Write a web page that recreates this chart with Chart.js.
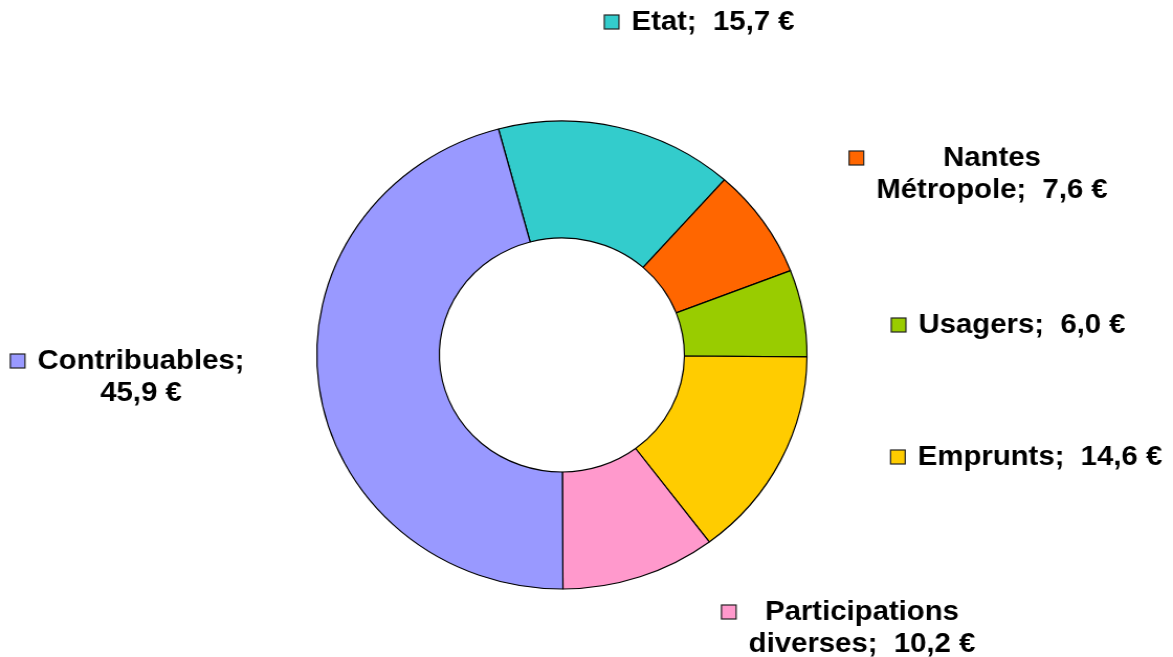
<!DOCTYPE html>
<html>
<head>
<meta charset="utf-8">
<script src="https://cdn.jsdelivr.net/npm/chart.js@4/dist/chart.umd.min.js"></script>
<style>
  html, body { margin: 0; padding: 0; background: #fff; overflow: hidden; }
  #wrap { position: absolute; left: 0; top: 0; width: 1120px; height: 657px;
          transform: scaleX(1.04732); transform-origin: 0 0; }
</style>
</head>
<body>
<div id="wrap"><canvas id="c"></canvas></div>
<script>
// ---- data ----
const categories = ['Etat', 'Nantes Métropole', 'Usagers', 'Emprunts', 'Participations diverses', 'Contribuables'];
const values = [15.7, 7.6, 6.0, 14.6, 10.2, 45.9];
const colors = ['#33CCCC', '#FF6600', '#99CC00', '#FFCC00', '#FF99CC', '#9999FF'];
// how each label is wrapped (display text)
const labelNames = ['Etat', 'Nantes\nMétropole', 'Usagers', 'Emprunts', 'Participations\ndiverses', 'Contribuables'];
const valueOnNewLine = [false, false, false, false, false, true];

// ---- label layout (screen positions of first line centre) ----
const SX = 1173 / 1120;
const labelPos = [
  { x: 713, y: 22 },
  { x: 992, y: 158 },
  { x: 1022, y: 325 },
  { x: 1040, y: 457 },
  { x: 862, y: 612 },
  { x: 141, y: 361 }
];

function fmt(v) { return v.toFixed(1).replace('.', ',') + ' €'; }

const labelPlugin = {
  id: 'outLabels',
  afterDraw(chart) {
    const ctx = chart.ctx;
    ctx.save();
    ctx.font = 'bold 28px "Liberation Sans", Arial, sans-serif';
    ctx.textAlign = 'center';
    ctx.textBaseline = 'middle';
    const lh = 32;
    categories.forEach((c, i) => {
      const text = labelNames[i] + ';' + (valueOnNewLine[i] ? '\n' : '  ') + fmt(values[i]);
      const lines = text.split('\n');
      const cx = labelPos[i].x / SX;
      const cy = labelPos[i].y;
      let maxW = 0;
      lines.forEach(l => { maxW = Math.max(maxW, ctx.measureText(l).width); });
      ctx.fillStyle = '#000';
      lines.forEach((l, k) => ctx.fillText(l, cx, cy + k * lh));
      // marker
      const size = 14;
      const mx = cx - maxW / 2 - 12 - size;
      ctx.fillStyle = colors[i];
      ctx.fillRect(mx, cy - size / 2, size, size);
      ctx.strokeStyle = '#222';
      ctx.lineWidth = 1.2;
      ctx.strokeRect(mx, cy - size / 2, size, size);
    });
    ctx.restore();
  }
};

new Chart(document.getElementById('c'), {
  type: 'doughnut',
  data: {
    labels: categories,
    datasets: [{
      data: values,
      backgroundColor: colors,
      borderColor: '#000',
      borderWidth: 1.2,
      borderAlign: 'center',
      radius: 234,
      cutout: '50%'
    }]
  },
  options: {
    responsive: true,
    maintainAspectRatio: false,
    animation: false,
    rotation: -15.0,
    layout: { padding: { left: 0, right: 47, top: 58, bottom: 5 } },
    plugins: {
      legend: { display: false },
      tooltip: { enabled: false }
    }
  },
  plugins: [labelPlugin]
});
</script>
</body>
</html>
